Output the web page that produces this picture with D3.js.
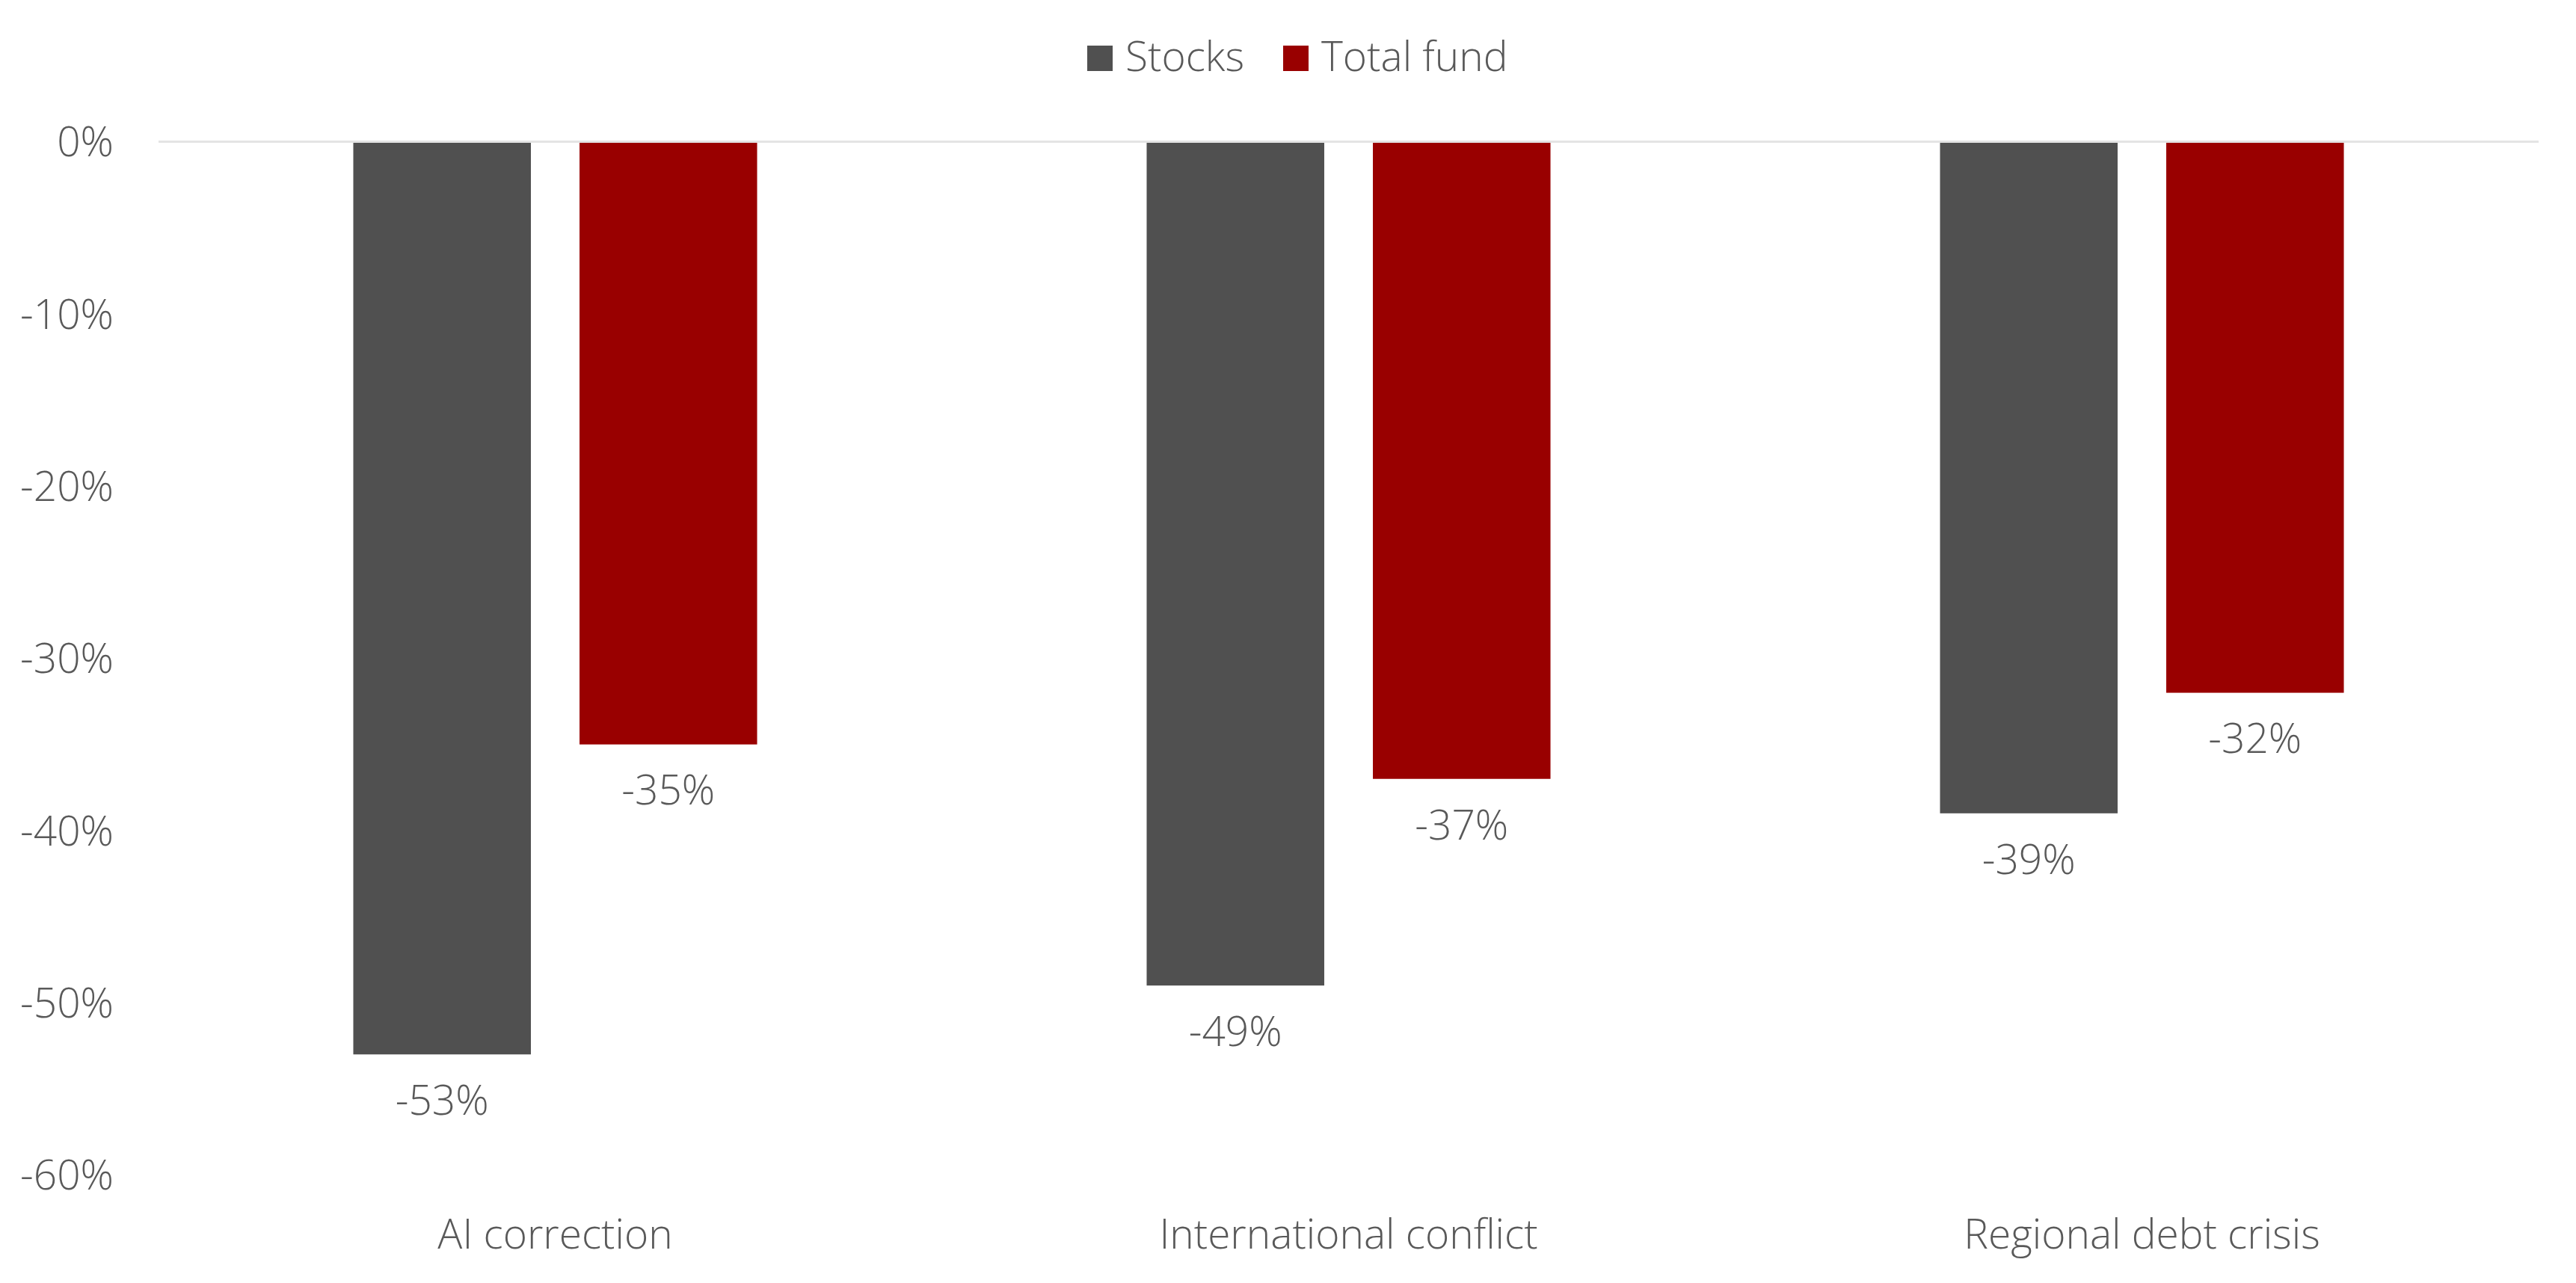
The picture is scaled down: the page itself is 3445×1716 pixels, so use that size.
<!DOCTYPE html>
<html>
<head>
<meta charset="utf-8">
<script src="https://cdn.jsdelivr.net/npm/d3@7"></script>
<style>
  body { margin: 0; background: #fff; }
  text { font-family: "Open Sans", sans-serif; font-weight: 300; fill: #595959; }
</style>
</head>
<body>
<svg id="chart"></svg>
<script>
var categories = ["AI correction", "International conflict", "Regional debt crisis"];
var seriesNames = ["Stocks", "Total fund"];
var stocksValues = [-53, -49, -39];
var totalFundValues = [-35, -37, -32];
var yTicks = [0, -10, -20, -30, -40, -50, -60];

var colors = { "Stocks": "#505050", "Total fund": "#990000" };

var width = 3445, height = 1716;
var margin = { top: 189.5, right: 50, bottom: 144.5, left: 212 };
var plotWidth = width - margin.left - margin.right,
    plotHeight = height - margin.top - margin.bottom;
var fontSize = "55px";

var data = categories.map(function (c, i) {
    return { category: c, values: [
        { name: "Stocks", value: stocksValues[i] },
        { name: "Total fund", value: totalFundValues[i] }
    ] };
});

var svg = d3.select("#chart")
    .attr("width", width)
    .attr("height", height);

var g = svg.append("g")
    .attr("transform", "translate(" + margin.left + "," + margin.top + ")");

var x0 = d3.scaleBand().domain(categories).range([0, plotWidth])
    .paddingInner(0.491).paddingOuter(0.2455);
var x1 = d3.scaleBand().domain(seriesNames).range([0, x0.bandwidth()])
    .paddingInner(0.215);
var y = d3.scaleLinear().domain([-60, 0]).range([plotHeight, 0]);

// zero line
g.append("line")
    .attr("x1", 0).attr("x2", plotWidth)
    .attr("y1", y(0)).attr("y2", y(0))
    .attr("stroke", "#e4e4e4")
    .attr("stroke-width", 3);

// y tick labels
g.selectAll(".ytick")
    .data(yTicks)
    .enter().append("text")
    .attr("class", "ytick")
    .attr("x", -60)
    .attr("y", function (d) { return y(d); })
    .attr("dy", "0.36em")
    .attr("text-anchor", "end")
    .style("font-size", fontSize)
    .text(function (d) { return d + "%"; });

var groups = g.selectAll(".group")
    .data(data)
    .enter().append("g")
    .attr("class", "group")
    .attr("transform", function (d) { return "translate(" + x0(d.category) + ",0)"; });

groups.selectAll("rect")
    .data(function (d) { return d.values; })
    .enter().append("rect")
    .attr("x", function (d) { return x1(d.name); })
    .attr("y", y(0) + 1.5)
    .attr("width", x1.bandwidth())
    .attr("height", function (d) { return y(d.value) - y(0) - 1.5; })
    .attr("fill", function (d) { return colors[d.name]; });

groups.selectAll(".label")
    .data(function (d) { return d.values; })
    .enter().append("text")
    .attr("class", "label")
    .attr("x", function (d) { return x1(d.name) + x1.bandwidth() / 2; })
    .attr("y", function (d) { return y(d.value) + 61; })
    .attr("dy", "0.36em")
    .attr("text-anchor", "middle")
    .style("font-size", fontSize)
    .text(function (d) { return d.value + "%"; });

// category labels
g.selectAll(".xlabel")
    .data(categories)
    .enter().append("text")
    .attr("class", "xlabel")
    .attr("x", function (d) { return x0(d) + x0.bandwidth() / 2; })
    .attr("y", 1670 - margin.top)
    .attr("text-anchor", "middle")
    .style("font-size", fontSize)
    .text(function (d) { return d; });

// legend
var legendX = [1454, 1716];
var legend = svg.selectAll(".legend")
    .data(seriesNames)
    .enter().append("g")
    .attr("class", "legend")
    .attr("transform", function (d, i) { return "translate(" + legendX[i] + ",61)"; });

legend.append("rect")
    .attr("width", 34).attr("height", 34)
    .attr("fill", function (d) { return colors[d]; });

legend.append("text")
    .attr("x", 51)
    .attr("y", 34)
    .style("font-size", fontSize)
    .text(function (d) { return d; });
</script>
</body>
</html>
